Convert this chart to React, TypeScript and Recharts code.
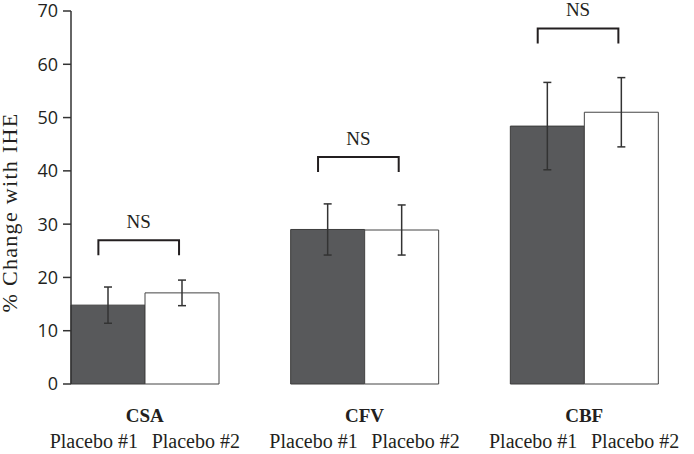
import { BarChart, Bar, XAxis, YAxis, ErrorBar, Label, Rectangle } from "recharts";

const categories = ["CSA", "CFV", "CBF"];
const seriesNames = ["Placebo #1", "Placebo #2"];
const placebo1 = [14.8, 29.0, 48.4];
const placebo2 = [17.1, 28.9, 51.0];
const placebo1Err = [3.4, 4.8, 8.2];
const placebo2Err = [2.4, 4.7, 6.5];
// top of the "NS" bracket, in % units
const bracketTop = [27.0, 42.6, 66.7];
const yTicks = [0, 10, 20, 30, 40, 50, 60, 70];

const data = categories.map((name, i) => ({
  name,
  p1: placebo1[i],
  p2: placebo2[i],
  e1: placebo1Err[i],
  e2: placebo2Err[i],
  bracket: bracketTop[i],
}));

const SERIF = "'Liberation Serif', 'Times New Roman', serif";
const INK = "#231f20";

function DarkBar(props: any) {
  const { x, y, width, height, payload } = props;
  const base = y + height;
  const pxPerUnit = height / payload.p1;
  const top = base - payload.bracket * pxPerUnit;
  const left = x + width * 0.37;
  const right = x + width * 1.46;
  return (
    <g>
      <Rectangle x={x} y={y} width={width} height={height} fill="#58595b" stroke="#3c3c3c" strokeWidth={1} />
      <path
        d={`M${left},${top + 15} V${top} H${right} V${top + 15}`}
        fill="none"
        stroke={INK}
        strokeWidth={2}
      />
      <text x={(left + right) / 2} y={top - 12.5} textAnchor="middle" fontFamily={SERIF} fontSize={19} fill={INK}>
        NS
      </text>
    </g>
  );
}

function GroupTick(props: any) {
  const { x, y, payload } = props;
  return (
    <g fill={INK} fontFamily={SERIF}>
      <text x={x} y={y + 38} textAnchor="middle" fontSize={19} fontWeight="bold">
        {payload.value}
      </text>
      <text x={x - 51} y={y + 64} textAnchor="middle" fontSize={20}>
        {seriesNames[0]}
      </text>
      <text x={x + 51} y={y + 64} textAnchor="middle" fontSize={20}>
        {seriesNames[1]}
      </text>
    </g>
  );
}

function YLabel(props: any) {
  const vb = props.viewBox;
  const cx = vb.x + 17;
  const cy = vb.y + vb.height / 2 + 15;
  return (
    <text
      x={cx}
      y={cy}
      transform={`rotate(-90, ${cx}, ${cy})`}
      textAnchor="middle"
      fontFamily={SERIF}
      fontSize={22}
      letterSpacing={1.3}
      fill={INK}
    >
      % Change with IHE
    </text>
  );
}

export default function App() {
  return (
    <div style={{ position: "absolute", left: 0, top: 0, background: "#fff" }}>
      <BarChart
        width={694}
        height={454}
        data={data}
        margin={{ top: 11, right: 0, bottom: 0, left: 0 }}
        barGap={0}
        barCategoryGap={36}
      >
        <XAxis
          dataKey="name"
          height={70}
          axisLine={false}
          tickLine={false}
          tickSize={0}
          tickMargin={0}
          padding={{ left: -36, right: 0 }}
          tick={GroupTick}
        />
        <YAxis
          width={71}
          domain={[0, 70]}
          ticks={yTicks}
          interval={0}
          axisLine={{ stroke: "#333", strokeWidth: 1.5 }}
          tickLine={{ stroke: "#333", strokeWidth: 1.5 }}
          tickSize={8}
          tickMargin={5}
          tick={{ fill: INK, fontSize: 18, fontFamily: "'Open Sans', sans-serif" }}
        >
          <Label content={YLabel} />
        </YAxis>
        <Bar dataKey="p1" name={seriesNames[0]} shape={DarkBar} isAnimationActive={false}>
          <ErrorBar dataKey="e1" width={4} stroke="#333" strokeWidth={1.5} />
        </Bar>
        <Bar dataKey="p2" name={seriesNames[1]} fill="#fff" stroke="#444" strokeWidth={1} isAnimationActive={false}>
          <ErrorBar dataKey="e2" width={4} stroke="#333" strokeWidth={1.5} />
        </Bar>
      </BarChart>
    </div>
  );
}
